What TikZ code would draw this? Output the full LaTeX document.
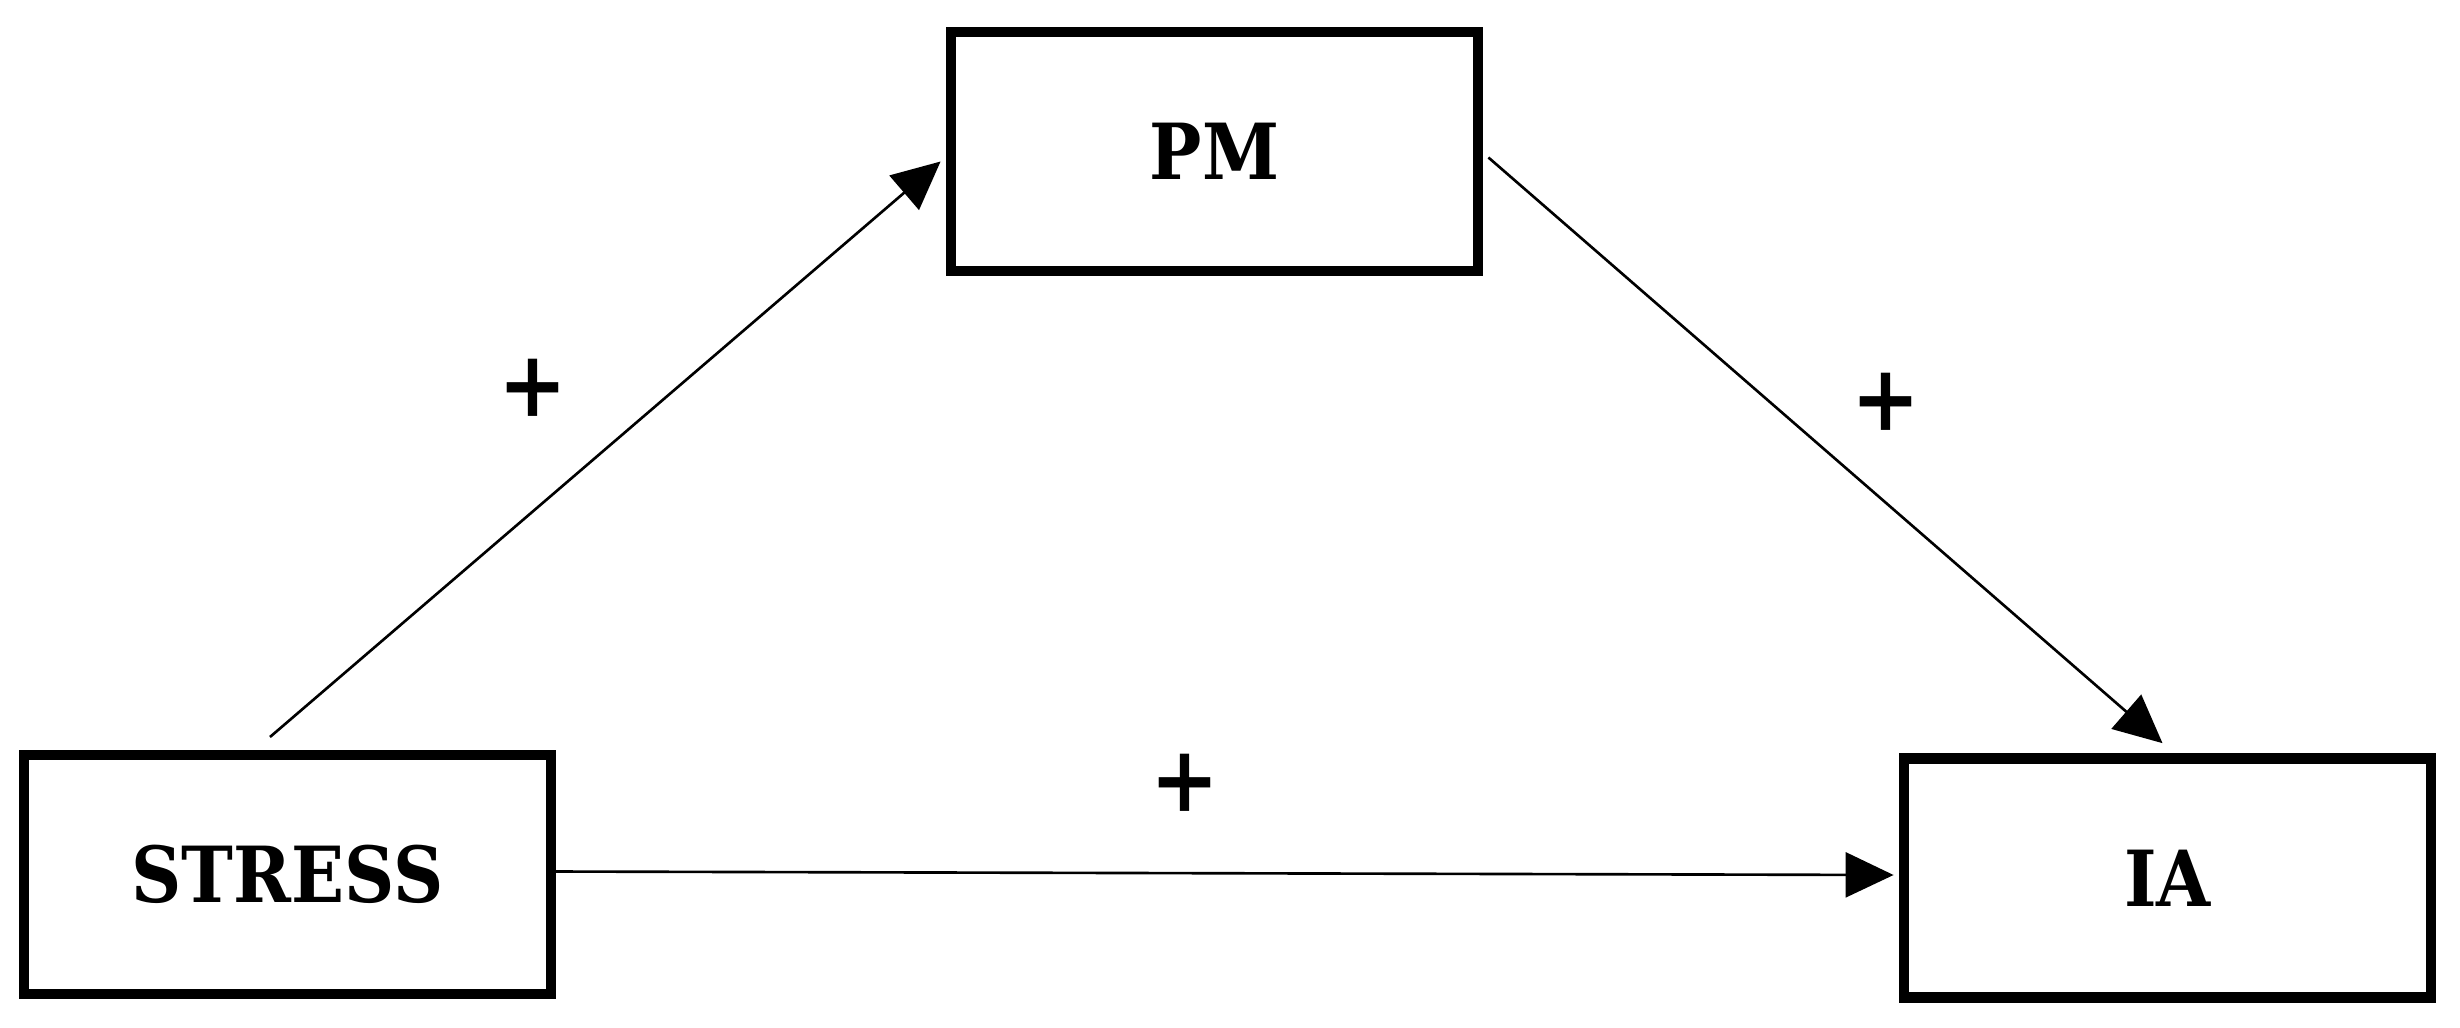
\documentclass[tikz,border=0pt]{standalone}
\usepackage{fontspec}
\setmainfont{DejaVu Serif Condensed}
\usetikzlibrary{arrows.meta,calc}
\begin{document}
\begin{tikzpicture}[x=0.01cm,y=-0.01cm,
  box/.style={draw=black,line width=3pt,minimum width=5.27cm,minimum height=2.39cm,inner sep=0pt,
    font=\fontsize{22}{26}\selectfont\bfseries},
  conn/.style={line width=0.75pt,-{Triangle[length=4.8mm,width=4.5mm]}},
  sign/.style={font=\fontsize{26}{30}\selectfont\bfseries,inner sep=0pt}]
\useasboundingbox (0,0) rectangle (2460,1027);
\node[box] (pm) at (1214.5,151.5) {PM};
\node[box] (stress) at (287.5,874.5) {STRESS};
\node[box] (ia) at (2167.5,878) {IA};
\coordinate (s1) at (270,737);
\draw[conn] (s1) -- ($(pm.west)+(-5,10)$);
\draw[conn] ($(pm.east)+(5,6)$) -- ($(ia.north)+(-5,-10)$);
\draw[conn] ($(stress.east)+(-6,-3)$) -- ($(ia.west)+(-5,-3)$);
\node[sign] (p1) at (533,388) {+};
\node[sign] (p2) at (1886,402) {+};
\node[sign] (p3) at (1185,783) {+};
\end{tikzpicture}
\end{document}
